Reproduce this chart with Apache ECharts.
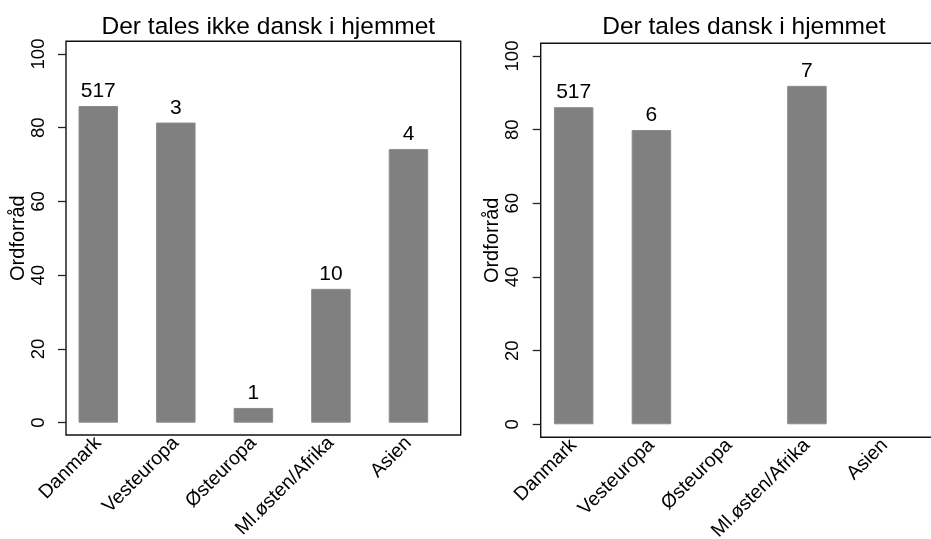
<!DOCTYPE html>
<html><head><meta charset="utf-8">
<script src="https://cdn.jsdelivr.net/npm/echarts@6/dist/echarts.min.js"></script>
<style>html,body{margin:0;padding:0;background:#fff}#c{width:931px;height:539px}</style>
</head><body><div id="c"></div>
<script>
// Categories and values
const regions = ['Danmark', 'Vesteuropa', 'Østeuropa', 'Ml.østen/Afrika', 'Asien'];
const panelTitles = ['Der tales ikke dansk i hjemmet', 'Der tales dansk i hjemmet'];
const yTicks = [0, 20, 40, 60, 80, 100];
const yTitle = 'Ordforråd';
// mean vocabulary score per region of origin
const vocabNoDanish = [85.9, 81.4, 4.0, 36.3, 74.2];
const vocabDanish = [86.1, 79.9, null, 91.9, null];
// respondents behind each bar
const countNoDanish = [517, 3, 1, 10, 4];
const countDanish = [517, 6, null, 7, null];

const FONT = "'Liberation Sans', Arial, sans-serif";
const BAR = '#808080';

// frame box and bar band for each panel (px)
const layout = [
  { frame: { left: 66, top: 41.3, width: 394.7, height: 393.7 }, band: { left: 59.5, width: 387.75 }, yMin: -3.34, yMax: 103.44 },
  { frame: { left: 540.7, top: 43.3, width: 396.3, height: 394 }, band: { left: 534.8, width: 388.75 }, yMin: -3.53, yMax: 103.45 }
];
const values = [vocabNoDanish, vocabDanish];
const counts = [countNoDanish, countDanish];

const grid = [], xAxis = [], yAxis = [], series = [], title = [];
layout.forEach((p, i) => {
  const f = p.frame;
  // framed plot box
  grid.push({ left: f.left, top: f.top, width: f.width, height: f.height, show: true,
    borderColor: '#111', borderWidth: 1.4, backgroundColor: 'transparent',
    containLabel: false, outerBoundsMode: 'none' });
  // bar band sharing the box's vertical extent
  grid.push({ left: p.band.left, top: f.top, width: p.band.width, height: f.height,
    containLabel: false, outerBoundsMode: 'none' });

  xAxis.push({ gridIndex: 2 * i, type: 'value', min: 0, max: 1, show: false });
  yAxis.push({
    gridIndex: 2 * i, type: 'value', min: p.yMin, max: p.yMax,
    name: yTitle, nameLocation: 'middle', nameGap: 34,
    nameTextStyle: { fontFamily: FONT, fontSize: 20, color: '#000' },
    axisLine: { show: false },
    splitLine: { show: false },
    axisTick: { show: true, length: 8, customValues: yTicks, lineStyle: { color: '#222', width: 1.3 } },
    axisLabel: { customValues: yTicks, rotate: 90, margin: 18, fontFamily: FONT, fontSize: 18.5, color: '#000' }
  });

  xAxis.push({
    gridIndex: 2 * i + 1, type: 'category', data: regions, boundaryGap: true,
    axisLine: { show: false }, axisTick: { show: false },
    axisLabel: { rotate: 45, margin: 5, interval: 0, fontFamily: FONT, fontSize: 19.5, color: '#000' }
  });
  yAxis.push({ gridIndex: 2 * i + 1, type: 'value', min: p.yMin, max: p.yMax, show: false });

  const n = counts[i];
  series.push({
    type: 'bar', xAxisIndex: 2 * i + 1, yAxisIndex: 2 * i + 1,
    data: values[i], barWidth: 39.5,
    itemStyle: { color: BAR, borderColor: '#8c8c8c', borderWidth: 1 },
    label: { show: true, position: 'top', distance: 4, fontFamily: FONT, fontSize: 21, color: '#000',
      formatter: d => (n[d.dataIndex] == null ? '' : String(n[d.dataIndex])) },
    silent: true, animation: false
  });

  title.push({ text: panelTitles[i], left: f.left + f.width / 2, top: 10,
    textAlign: 'center',
    textStyle: { fontFamily: FONT, fontSize: 24.5, fontWeight: 'normal', color: '#000' } });
});

const chart = echarts.init(document.getElementById('c'), null, { renderer: 'canvas' });
chart.setOption({ animation: false, backgroundColor: '#fff', title, grid, xAxis, yAxis, series });
</script>
</body></html>
